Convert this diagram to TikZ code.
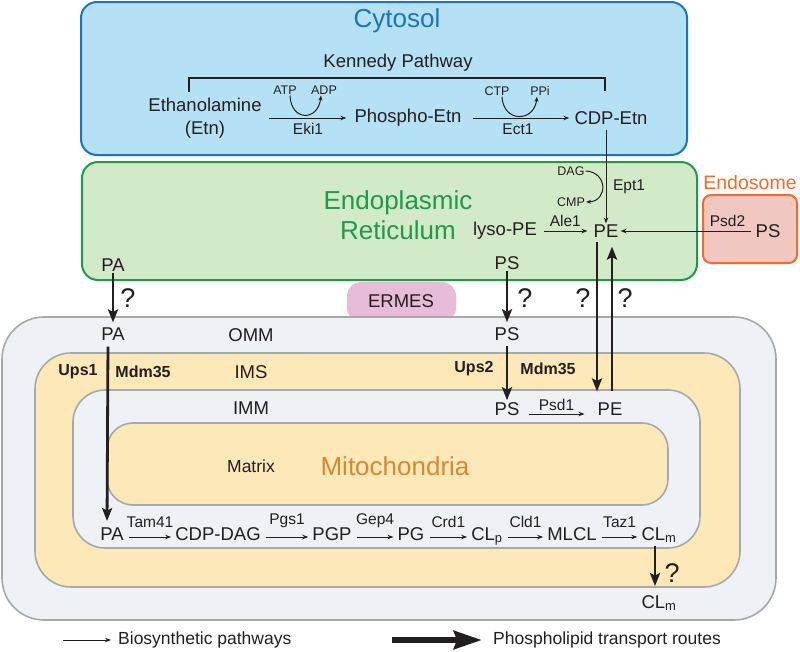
\documentclass[tikz,border=0pt]{standalone}
\usepackage{fontspec}
\setmainfont{Liberation Sans}
\usetikzlibrary{arrows.meta,positioning}
\definecolor{cytofill}{HTML}{B5E1F6}
\definecolor{cytoline}{HTML}{1B75BC}
\definecolor{erfill}{HTML}{D3EAC9}
\definecolor{erline}{HTML}{1E9A4B}
\definecolor{endofill}{HTML}{F1C7C1}
\definecolor{endoline}{HTML}{F26B2D}
\definecolor{ermesfill}{HTML}{E8BCD9}
\definecolor{mitofill}{HTML}{EEF1F5}
\definecolor{imsfill}{HTML}{FDE8B7}
\definecolor{mitoline}{HTML}{A6A8AB}
\definecolor{mitotext}{HTML}{D48A34}
\definecolor{ink}{HTML}{231F20}
\tikzset{
  lbl/.style={font=\fontsize{18.5}{21}\selectfont, inner sep=1pt, text=ink},
  enz/.style={font=\fontsize{15.5}{17}\selectfont, inner sep=1pt, text=ink},
  cof/.style={font=\fontsize{12.5}{14}\selectfont, inner sep=1pt, text=ink},
  bld/.style={font=\fontsize{16}{18}\selectfont\bfseries, inner sep=1pt, text=ink},
  qm/.style={font=\fontsize{27}{29}\selectfont, inner sep=0pt, text=ink},
  biosyn/.style={draw=ink, line width=1pt, -{Stealth[length=6pt,width=4.5pt]}},
  cofarrow/.style={draw=ink, line width=1pt, -{Stealth[length=5pt,width=4pt]}},
  transport/.style={draw=ink, line width=2.8pt, -{Stealth[length=13pt,width=10pt,inset=2.5pt]}},
  membrane/.style={fill=#1, draw=mitoline, line width=1.6pt},
}

\begin{document}
\begin{tikzpicture}[x=1pt,y=-1pt]
  \useasboundingbox (0,0) rectangle (800,651);
  % compartments
  \filldraw[fill=cytofill, draw=cytoline, line width=2pt, rounded corners=16pt] (81,2) rectangle (687,155);
  \filldraw[fill=erfill, draw=erline, line width=2pt, rounded corners=16pt] (82,162) rectangle (697,280);
  \filldraw[fill=endofill, draw=endoline, line width=2pt, rounded corners=8pt] (703,195) rectangle (797,263);
  \fill[ermesfill, rounded corners=14pt] (347,282) rectangle (456,322);
  \filldraw[membrane=mitofill, rounded corners=42pt] (2,317) rectangle (776,620);
  \filldraw[membrane=imsfill, rounded corners=36pt] (35,353) rectangle (740,587);
  \filldraw[membrane=mitofill, rounded corners=32pt] (73,390) rectangle (700,548);
  \filldraw[membrane=imsfill, rounded corners=26pt] (107,423) rectangle (668,505);

  % cytosol: Kennedy pathway
  \node[lbl, font=\fontsize{26}{28}\selectfont, text=cytoline] (cytosol) at (397,21) {Cytosol};
  \node[lbl] (kennedy) at (398,63) {Kennedy Pathway};
  \draw[ink, line width=1.2pt] (189,92) -- (189,78) -- (605,78) -- (605,91);
  \node[lbl, align=center, font=\fontsize{18.5}{23}\selectfont] (etn) at (205,118) {Ethanolamine\\(Etn)};
  \node[lbl] (pho) at (408,118) {Phospho-Etn};
  \node[lbl] (cdpetn) at (611,118) {CDP-Etn};
  \node[cof] (atp) at (285,90) {ATP};
  \node[cof] (adp) at (324,90) {ADP};
  \node[cof] (ctp) at (497,91) {CTP};
  \node[cof] (ppi) at (540,91) {PPi};
  \draw[biosyn, shorten <=6pt, shorten >=7pt] (etn) -- (pho) node[enz, midway, below=4pt] (eki) {Eki1};
  \draw[biosyn, shorten <=10pt, shorten >=4pt] (pho) -- (cdpetn) node[enz, midway, below=4pt] (ect) {Ect1};
  \draw[cofarrow] ([xshift=5pt]atp.south) .. controls +(1,26) and +(-3,26) .. ([xshift=-3pt]adp.south);
  \draw[cofarrow] ([xshift=5pt]ctp.south) .. controls +(1,26) and +(-3,26) .. ([xshift=-3pt]ppi.south);

  % ER
  \node[lbl, font=\fontsize{26}{30}\selectfont, text=erline, align=center] (ername) at (398,215) {Endoplasmic\\Reticulum};
  \node[lbl] (lysope) at (505,231) {lyso-PE};
  \node[lbl] (erpe) at (606,231) {PE};
  \node[cof] (dag) at (571,171) {DAG};
  \node[cof] (cmp) at (571,202) {CMP};
  \node[enz] (ept) at (629,187) {Ept1};
  \draw[biosyn, shorten <=4pt] (cdpetn.south -| erpe) -- (erpe.north);
  \draw[cofarrow] (dag.east) .. controls +(22,1) and +(22,-1) .. (cmp.east);
  \draw[biosyn, shorten <=6pt, shorten >=5pt] (lysope) -- (erpe) node[enz, midway, above=3pt] (ale) {Ale1};
  \node[lbl] (erpa) at (113,265) {PA};
  \node[lbl] (erps) at (507,263) {PS};

  % endosome
  \node[lbl, font=\fontsize{19.5}{21}\selectfont, text=endoline] (endoname) at (750,183) {Endosome};
  \node[lbl] (endops) at (768,231) {PS};
  \draw[biosyn, shorten <=3pt, shorten >=1pt] (endops) -- (erpe) node[enz, pos=0.2, above=3pt] (psd2) {Psd2};

  \node[lbl] (ermes) at (401,301) {ERMES};

  % mitochondria
  \node[lbl] (ompa) at (113,334) {PA};
  \node[lbl] (omm) at (251,335) {OMM};
  \node[lbl] (omps) at (507,334) {PS};
  \node[bld] (ups1) at (78,372) {Ups1};
  \node[bld] (mdm1) at (143,372) {Mdm35};
  \node[lbl] (ims) at (251,372) {IMS};
  \node[bld] (ups2) at (474,369) {Ups2};
  \node[bld] (mdm2) at (548,369) {Mdm35};
  \node[lbl] (imm) at (251,408) {IMM};
  \node[lbl] (imps) at (507,409) {PS};
  \node[lbl] (impe) at (610,409) {PE};
  \draw[biosyn] ([xshift=8pt,yshift=-5pt]imps.east) -- ([xshift=-12pt,yshift=-5pt]impe.west) node[enz, midway, above=2pt] (psd1) {Psd1};
  \node[lbl, font=\fontsize{17.5}{20}\selectfont] (matrix) at (251,466) {Matrix};
  \node[lbl, font=\fontsize{26}{28}\selectfont, text=mitotext] (mito) at (395,466) {Mitochondria};

  % cardiolipin route
  \node[lbl, anchor=base] (rpa) at (112,540) {PA};
  \node[lbl, anchor=base] (cdpdag) at (218,540) {CDP-DAG};
  \node[lbl, anchor=base] (pgp) at (332,540) {PGP};
  \node[lbl, anchor=base] (pg) at (411,540) {PG};
  \node[lbl, anchor=base] (clp) at (487,540) {CL\textsubscript{p}};
  \node[lbl, anchor=base] (mlcl) at (572,540) {MLCL};
  \node[lbl, anchor=base] (clm) at (659,540) {CL\textsubscript{m}};
  \foreach \a/\b/\e in {rpa/cdpdag/Tam41, cdpdag/pgp/Pgs1, pgp/pg/Gep4, pg/clp/Crd1, clp/mlcl/Cld1, mlcl/clm/Taz1}
    \draw[biosyn] ([xshift=4pt,yshift=3pt]\a.base east) -- ([xshift=-3pt,yshift=3pt]\b.base west) node[enz, midway, above=8pt] (\e) {\e};
  \node[lbl] (clmout) at (659,603) {CL\textsubscript{m}};

  % transport routes
  \draw[transport, shorten >=4pt] (erpa.south) -- (ompa.north);
  \node[qm] (qpa) at (128,298) {?};
  \draw[transport, shorten <=5pt, shorten >=5pt] ([xshift=-5pt]ompa.south) -- ([xshift=-5pt]rpa.north);
  \draw[transport, shorten >=4pt] (erps.south) -- (omps.north);
  \node[qm] (qps) at (525,298) {?};
  \draw[transport, shorten <=4pt, shorten >=1pt] (omps.south) -- (imps.north);
  \draw[transport, shorten <=3pt, shorten >=10pt] ([xshift=-9pt]erpe.south) -- ([xshift=-9pt]erpe.south |- impe.north);
  \node[qm] (qdown) at (583,298) {?};
  \draw[transport, shorten <=10pt, shorten >=8pt] ([xshift=2pt]impe.north) -- ([xshift=2pt]impe.north |- erpe.south);
  \node[qm] (qup) at (625,298) {?};
  \draw[transport, shorten <=2pt, shorten >=8pt] ([xshift=-4pt]clm.south) -- ([xshift=-4pt]clm.south |- clmout.north);
  \node[qm] (qcl) at (672,573) {?};

  % legend
  \coordinate (leg1) at (63,640);
  \node[lbl, font=\fontsize{17.5}{20}\selectfont, anchor=west] (legbio) at (117,640) {Biosynthetic pathways};
  \draw[biosyn, shorten >=6pt] (leg1) -- (legbio.west);
  \coordinate (leg2) at (392,640);
  \node[lbl, font=\fontsize{17.5}{20}\selectfont, anchor=west] (legtr) at (492,640) {Phospholipid transport routes};
  \draw[draw=ink, line width=6pt, -{Stealth[length=28pt,width=18pt,inset=3pt]}, shorten >=10pt] (leg2) -- (legtr.west);
\end{tikzpicture}
\end{document}
